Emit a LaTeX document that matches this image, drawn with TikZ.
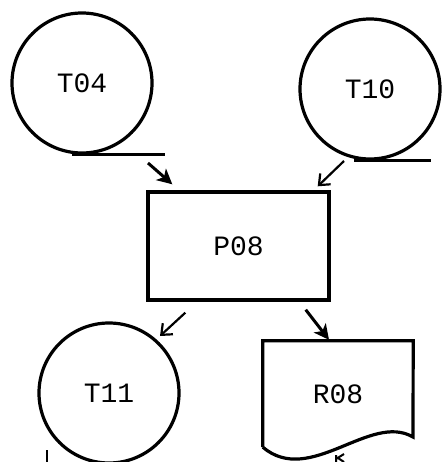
\documentclass[tikz,border=0pt]{standalone}
\usepackage{fontspec}
\setmonofont{Liberation Mono}
\usetikzlibrary{arrows.meta}
\begin{document}
\begin{tikzpicture}[x=1pt,y=-1pt,
  every node/.style={font=\ttfamily\fontsize{28}{28}\selectfont},
  tape/.style={circle,draw,line width=3.2pt,minimum size=140pt,inner sep=0pt},
  procbox/.style={rectangle,draw,line width=3.4pt,minimum width=181pt,minimum height=108pt,inner sep=0pt},
  docbox/.style={rectangle,minimum width=150pt,minimum height=106pt,inner sep=0pt},
  flowthin/.style={line width=2.2pt,-{Straight Barb[length=9pt,width=15pt,line width=2.2pt]}},
  flowbold/.style={line width=3pt,-{Stealth[length=15pt,width=15pt,inset=4pt]}},
  tapeline/.style={line width=3pt}]
\useasboundingbox (0,0) rectangle (442,462);

% tape files and the processing step
\node[tape] (t04) at (82,83) {T04};
\node[tape] (t10) at (370,89) {T10};
\node[tape] (t11) at (109,393) {T11};
\node[procbox] (p08) at (238.5,246) {P08};

% tape marks along the bottom of each reel
\draw[tapeline] (t04.south) ++(-10,0) -- ++(93,0);
\draw[tapeline] (t10.south) ++(-16,0) -- ++(77,0);
\draw[tapeline] (t11.south) ++(-30,0) -- ++(60,0);

% report document with a wavy lower edge
\node[docbox] (r08) at (338,394) {R08};
\draw[line width=3.2pt,line join=miter]
  (r08.south west) -- (r08.north west) -- (r08.north east) -- (413,437)
  .. controls (370,412) and (310,487) .. (r08.south west);

% data flow
\draw[flowbold] ([shift={(66,80)}]t04.center) -- ([shift={(26,-6)}]p08.north west);
\draw[flowthin] ([shift={(-26,72)}]t10.center) -- ([shift={(-13,-4)}]p08.north east);
\draw[flowthin] ([shift={(39,11)}]p08.south west) -- ([shift={(51,-57)}]t11.center);
\draw[flowbold] ([shift={(-25,8)}]p08.south east) -- ([shift={(-9,-1)}]r08.north);

% strokes at the lower edge
\draw[line width=2.2pt] (47,450) -- (47,462);
\draw[line width=2pt] (336,455) -- (336,462) (336,459) -- (344,454) (338,458) -- (344,462);
\end{tikzpicture}
\end{document}
